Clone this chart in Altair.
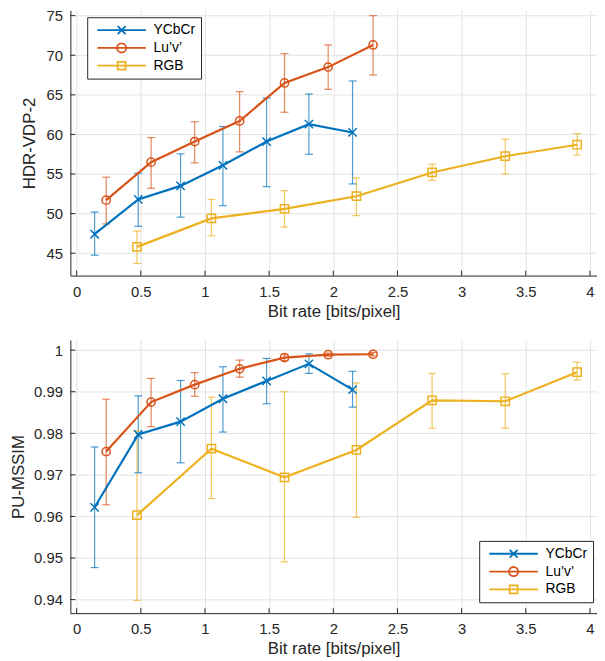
import altair as alt
import pandas as pd

series_names = ["YCbCr", "Lu\u2019v\u2019", "RGB"]
colors = ["#0072BD", "#D95319", "#EDB120"]

# ---- HDR-VDP-2 panel ----
hdr_ycbcr_x = [0.14, 0.48, 0.81, 1.14, 1.48, 1.81, 2.15]
hdr_ycbcr_y = [47.4, 51.8, 53.5, 56.1, 59.1, 61.3, 60.25]
hdr_ycbcr_lo = [44.75, 48.4, 49.55, 51.0, 53.4, 57.5, 53.75]
hdr_ycbcr_hi = [50.2, 55.1, 57.55, 61.0, 64.6, 65.1, 66.75]

hdr_luv_x = [0.23, 0.58, 0.92, 1.27, 1.62, 1.96, 2.31]
hdr_luv_y = [51.7, 56.5, 59.1, 61.7, 66.5, 68.5, 71.3]
hdr_luv_lo = [48.7, 53.2, 56.4, 57.8, 62.8, 65.7, 67.5]
hdr_luv_hi = [54.6, 59.6, 61.6, 65.4, 70.2, 71.3, 75.0]

hdr_rgb_x = [0.47, 1.05, 1.62, 2.18, 2.77, 3.34, 3.90]
hdr_rgb_y = [45.8, 49.4, 50.6, 52.2, 55.2, 57.25, 58.7]
hdr_rgb_lo = [43.7, 47.2, 48.3, 49.75, 54.2, 55.0, 57.4]
hdr_rgb_hi = [47.8, 51.8, 52.9, 54.5, 56.25, 59.4, 60.1]

# ---- PU-MSSIM panel ----
pu_ycbcr_x = [0.14, 0.48, 0.81, 1.14, 1.48, 1.81, 2.15]
pu_ycbcr_y = [0.9622, 0.9797, 0.9828, 0.9883, 0.9926, 0.9967, 0.9905]
pu_ycbcr_lo = [0.9477, 0.9705, 0.9729, 0.9803, 0.9871, 0.9944, 0.9863]
pu_ycbcr_hi = [0.9767, 0.9890, 0.9927, 0.9960, 0.9980, 0.9991, 0.9949]

pu_luv_x = [0.23, 0.58, 0.92, 1.27, 1.62, 1.96, 2.31]
pu_luv_y = [0.9756, 0.9875, 0.9917, 0.9955, 0.9982, 0.9989, 0.9990]
pu_luv_lo = [0.9628, 0.9816, 0.9889, 0.9935, 0.9975, 0.9985, 0.9986]
pu_luv_hi = [0.9882, 0.9932, 0.9946, 0.9976, 0.9989, 0.9993, 0.9994]

pu_rgb_x = [0.47, 1.05, 1.62, 2.18, 2.77, 3.34, 3.90]
pu_rgb_y = [0.9603, 0.9763, 0.9694, 0.9760, 0.9879, 0.9877, 0.9947]
pu_rgb_lo = [0.9398, 0.9643, 0.9491, 0.9598, 0.9812, 0.9812, 0.9928]
pu_rgb_hi = [0.9806, 0.9887, 0.9900, 0.9921, 0.9944, 0.9943, 0.9971]

x_ticks = [0, 0.5, 1, 1.5, 2, 2.5, 3, 3.5, 4]
hdr_ticks = [45, 50, 55, 60, 65, 70, 75]
pu_ticks = [0.94, 0.95, 0.96, 0.97, 0.98, 0.99, 1.0]


def build_df(groups):
    rows = []
    for name, (xs, ys, los, his) in zip(series_names, groups):
        for x, y, lo, hi in zip(xs, ys, los, his):
            rows.append({"series": name, "x": x, "y": y, "lo": lo, "hi": hi})
    return pd.DataFrame(rows)


hdr_df = build_df([
    (hdr_ycbcr_x, hdr_ycbcr_y, hdr_ycbcr_lo, hdr_ycbcr_hi),
    (hdr_luv_x, hdr_luv_y, hdr_luv_lo, hdr_luv_hi),
    (hdr_rgb_x, hdr_rgb_y, hdr_rgb_lo, hdr_rgb_hi),
])
pu_df = build_df([
    (pu_ycbcr_x, pu_ycbcr_y, pu_ycbcr_lo, pu_ycbcr_hi),
    (pu_luv_x, pu_luv_y, pu_luv_lo, pu_luv_hi),
    (pu_rgb_x, pu_rgb_y, pu_rgb_lo, pu_rgb_hi),
])

marker_paths = [
    "M-1,-1L1,1M-1,1L1,-1",
    "circle",
    "square",
]
# legend glyphs: line segment with the marker in its middle
legend_paths = [
    "M-0.39,0L6.61,0M2.54,-0.57L3.68,0.57M2.54,0.57L3.68,-0.57",
    "M-0.39,0L6.61,0M2.45,0A0.66,0.66,0,1,1,3.77,0A0.66,0.66,0,1,1,2.45,0",
    "M-0.39,0L6.61,0M2.54,-0.57L3.68,-0.57L3.68,0.57L2.54,0.57Z",
]

W = 532
FONT = "Liberation Sans"
AXIS_COLOR = "#262626"


def panel(df, ydomain, yticks, yfmt, ytitle, title_x, height, lx, ly):
    xscale = alt.Scale(domain=[-0.049, 4.055], nice=False, zero=False)
    yscale = alt.Scale(domain=ydomain, nice=False, zero=False)
    cscale = alt.Scale(domain=series_names, range=colors)
    color_nolegend = alt.Color("series:N", scale=cscale, legend=None)
    xenc = alt.X("x:Q", scale=xscale,
                 axis=alt.Axis(values=x_ticks, format=".1~f", title="Bit rate [bits/pixel]",
                               titleFontSize=17, titleFontWeight="normal", titleColor="#262626",
                               titlePadding=4, labelFontSize=15, labelColor="#262626",
                               labelPadding=9, tickSize=0, domainColor=AXIS_COLOR,
                               gridColor="#e3e3e3", labelFont=FONT, titleFont=FONT))
    yenc = alt.Y("y:Q", scale=yscale,
                 axis=alt.Axis(values=yticks, format=yfmt, title=ytitle,
                               titleFontSize=17, titleFontWeight="normal", titleColor="#262626",
                               titleX=title_x, titleY=height / 2, titleAngle=-90,
                               titleAlign="center", titleBaseline="alphabetic",
                               labelFontSize=15, labelColor="#262626", labelPadding=8,
                               tickSize=0, domainColor=AXIS_COLOR, gridColor="#e3e3e3",
                               labelFont=FONT, titleFont=FONT))
    base = alt.Chart(df)
    leg = alt.Legend(title=None, orient="none", legendX=lx, legendY=ly,
                     symbolSize=196, symbolStrokeWidth=1.8, labelFontSize=14,
                     labelFont=FONT, labelColor="#000000",
                     strokeColor=AXIS_COLOR, fillColor="white", padding=5,
                     rowPadding=1, labelOffset=46, symbolOpacity=1,
                     symbolFillColor="transparent")
    legend_layer = base.mark_point(filled=False, size=0, strokeWidth=0, opacity=0).encode(
        x=xenc, y=yenc,
        color=alt.Color("series:N", scale=cscale, legend=leg),
        shape=alt.Shape("series:N", scale=alt.Scale(domain=series_names, range=legend_paths), legend=leg),
    )
    err = base.mark_rule(strokeWidth=1.2, opacity=0.7).encode(
        x="x:Q", y=alt.Y("lo:Q", scale=yscale), y2="hi:Q", color=color_nolegend)
    cap_lo = base.mark_rule(strokeWidth=1.2, opacity=0.7, xOffset=-4, x2Offset=4).encode(
        x="x:Q", x2="x:Q", y=alt.Y("lo:Q", scale=yscale), color=color_nolegend)
    cap_hi = base.mark_rule(strokeWidth=1.2, opacity=0.7, xOffset=-4, x2Offset=4).encode(
        x="x:Q", x2="x:Q", y=alt.Y("hi:Q", scale=yscale), color=color_nolegend)
    line = base.mark_line(strokeWidth=2.2).encode(
        x="x:Q", y="y:Q", color=color_nolegend, detail="series:N")
    # inward axis ticks (MATLAB style)
    ytick_layer = alt.Chart(pd.DataFrame({"t": yticks})).mark_rule(
        color=AXIS_COLOR, strokeWidth=1).encode(
        y=alt.Y("t:Q", scale=yscale), x=alt.value(0), x2=alt.value(5))
    xtick_layer = alt.Chart(pd.DataFrame({"t": x_ticks})).mark_rule(
        color=AXIS_COLOR, strokeWidth=1).encode(
        x=alt.X("t:Q", scale=xscale), y=alt.value(height), y2=alt.value(height - 5))
    layers = [legend_layer, err, cap_lo, cap_hi, line]
    for name, shp in zip(series_names, marker_paths):
        layers.append(
            base.transform_filter(alt.datum.series == name)
            .mark_point(shape=shp, filled=False, size=70, strokeWidth=1.5, opacity=1)
            .encode(x="x:Q", y="y:Q", color=color_nolegend)
        )
    layers += [ytick_layer, xtick_layer]
    return alt.layer(*layers).properties(width=W, height=height)


top = panel(hdr_df, [42.175, 75.675], hdr_ticks, "d", "HDR-VDP-2", -36, 268, 17, 7)
bottom = panel(pu_df, [0.93674, 1.00245], pu_ticks, ".2~f", "PU-MSSIM", -47, 276, 413, 203)

chart = alt.vconcat(top, bottom, spacing=65, bounds="flush").resolve_scale(
    color="independent", shape="independent"
).resolve_legend(color="independent", shape="independent").properties(
    padding={"left": 2, "top": -3, "right": 0, "bottom": 0}
).configure_view(stroke=None).configure_axis(
    domainWidth=1, gridWidth=1
)

chart.save("out.html", embed_options={"renderer": "svg", "actions": False})
